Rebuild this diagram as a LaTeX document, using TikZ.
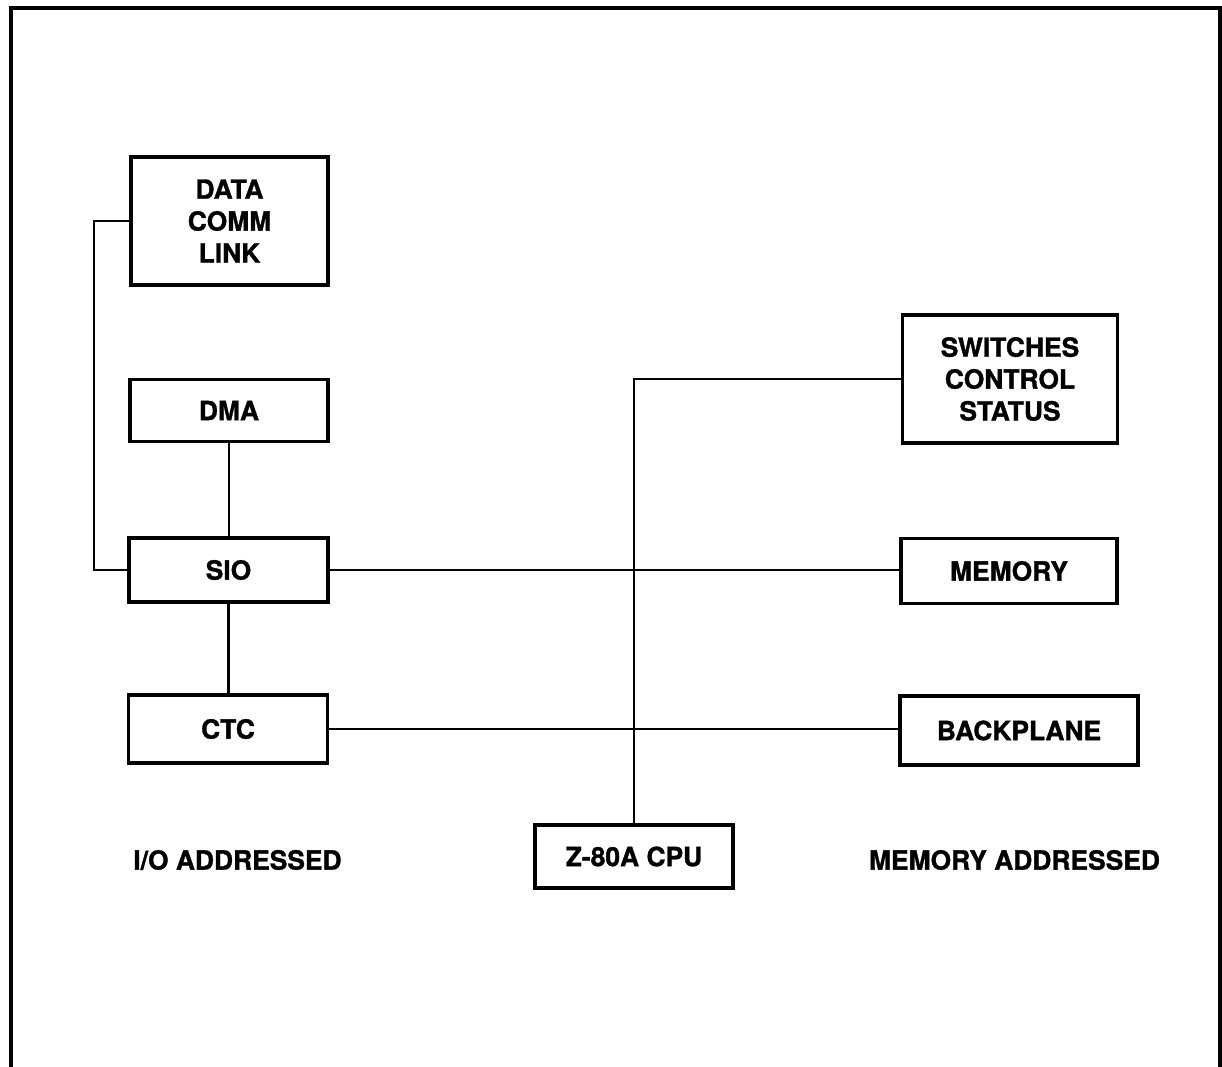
\documentclass[tikz,border=0pt]{standalone}
\usepackage{fontspec}
\setmainfont{TeX Gyre Heros}[BoldFeatures={FakeBold=1.2}]
\begin{document}
\begin{tikzpicture}[x=1bp,y=-1bp,
  blk/.style={draw, line width=3.2bp, inner sep=0pt, align=center,
    font=\bfseries\fontsize{26.5}{32}\selectfont},
  lbl/.style={inner sep=0pt, font=\bfseries\fontsize{26.5}{32}\selectfont},
  wire/.style={line width=2.7bp}]
\useasboundingbox (0,0) rectangle (1222,1067);
% frame (open at the bottom)
\draw[line width=3.5bp] (11,1067) -- (11,8) -- (1220,8) -- (1220,1067);
% blocks
\node[blk, minimum width=197bp, minimum height=128bp] (dcl) at (229.5,221) {DATA\\COMM\\LINK};
\node[blk, minimum width=198bp, minimum height=62bp] (dma) at (229,410.5) {DMA};
\node[blk, minimum width=199bp, minimum height=64bp] (sio) at (228.5,570) {SIO};
\node[blk, minimum width=199bp, minimum height=68bp] (ctc) at (228,729) {CTC};
\node[blk, minimum width=215bp, minimum height=128bp] (sw) at (1010,379) {SWITCHES\\CONTROL\\STATUS};
\node[blk, minimum width=216bp, minimum height=65bp] (mem) at (1009,571) {MEMORY};
\node[blk, minimum width=238bp, minimum height=69bp] (bp) at (1019,730.5) {BACKPLANE};
\node[blk, minimum width=198bp, minimum height=63bp] (cpu) at (634,856.5) {Z-80A CPU};
\node[lbl] (io) at (237.5,860) {I/O ADDRESSED};
\node[lbl] (ma) at (1014.5,860) {MEMORY ADDRESSED};
% connectors
\coordinate (bend) at (94,221);
\draw[wire] (dcl.west) -- (bend) |- (sio.west);
\draw[wire] (dma.south) -- (dma.south |- sio.north);
\draw[wire] (sio.south) -- (sio.south |- ctc.north);
\draw[wire] (sio.east) -- (sio.east -| mem.west);
\draw[wire] (ctc.east) -- (ctc.east -| bp.west);
\draw[wire] (cpu.north) |- (sw.west);
\end{tikzpicture}
\end{document}
